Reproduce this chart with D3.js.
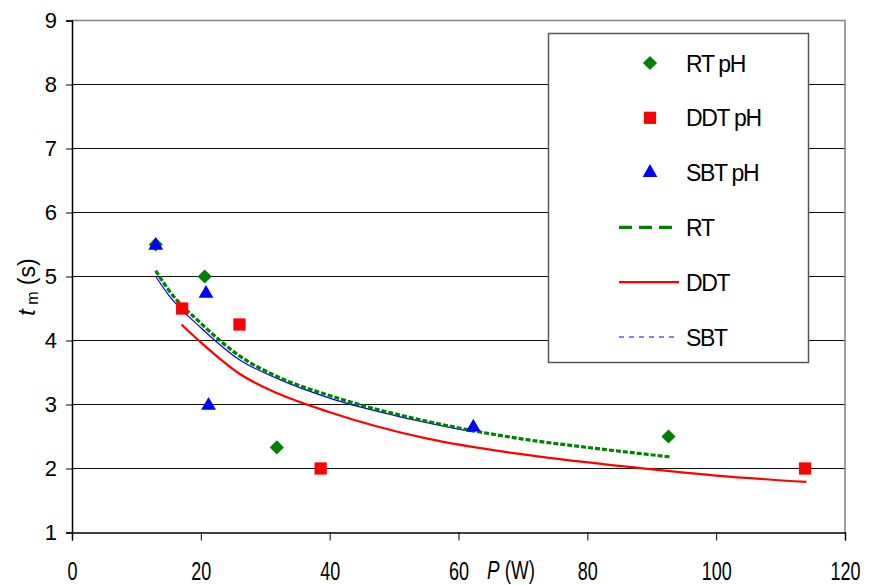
<!DOCTYPE html>
<html lang="en">
  <head>
    <meta charset="UTF-8" />
    <title>tm vs P</title>
    <style>
      body { margin: 0; background: #fff; }
      text { font-family: "Liberation Sans", Arial, sans-serif; fill: #000; }
    </style>
  </head>
  <body>
    <svg id="svg" width="870" height="585"></svg>

    <script src="https://d3js.org/d3.v7.min.js"></script>
    <script>
      // measured points
      const rtP = [13, 20.6, 31.8, 92.6];
      const rtT = [5.5, 5.0, 2.33, 2.5];
      const ddtP = [17.1, 26.0, 38.6, 113.8];
      const ddtT = [4.5, 4.25, 2.0, 2.0];
      const sbtP = [13.0, 20.8, 21.2, 62.3];
      const sbtT = [5.5, 4.75, 3.0, 2.66];

      // trend curves
      const rtFitP = [13, 15, 20, 26, 32, 40, 55, 70, 80, 93];
      const rtFitT = [5.09, 4.79, 4.27, 3.76, 3.43, 3.14, 2.74, 2.46, 2.33, 2.18];
      const ddtFitP = [17, 20, 26, 32, 40, 55, 70, 85, 100, 114];
      const ddtFitT = [4.25, 3.97, 3.48, 3.17, 2.88, 2.47, 2.22, 2.04, 1.89, 1.79];
      const sbtFitP = [13, 15, 20, 26, 32, 40, 50, 62.3];
      const sbtFitT = [5.0, 4.71, 4.2, 3.7, 3.4, 3.1, 2.83, 2.57];

      const xTicks = [0, 20, 40, 60, 80, 100, 120];
      const yTicks = [1, 2, 3, 4, 5, 6, 7, 8, 9];

      const svg = d3.select("#svg");
      const x = d3.scaleLinear().domain([0, 120]).range([72, 845]);
      const y = d3.scaleLinear().domain([1, 9]).range([532.5, 20.5]);

      // gridlines
      svg.append("g")
        .selectAll("line")
        .data(yTicks.slice(1))
        .enter()
        .append("line")
        .attr("x1", x(0)).attr("x2", x(120))
        .attr("y1", (d) => y(d)).attr("y2", (d) => y(d))
        .attr("stroke", "#111").attr("stroke-width", 1.2);

      // plot border (top / right)
      svg.append("path")
        .attr("d", `M${x(0)},${y(9)}H${x(120)}V${y(1)}`)
        .attr("fill", "none").attr("stroke", "#808080").attr("stroke-width", 1.5);

      const yAxis = svg.append("g")
        .attr("transform", `translate(${x(0)},0)`)
        .call(d3.axisLeft(y).tickValues(yTicks).tickSize(6).tickPadding(9).tickFormat(d3.format("d")));
      yAxis.select(".domain").attr("stroke", "#000").attr("stroke-width", 1.5);
      yAxis.selectAll("text").style("font-size", "22px").attr("font-family", null);

      const xAxis = svg.append("g")
        .attr("transform", `translate(0,${y(1)})`)
        .call(d3.axisBottom(x).tickValues(xTicks).tickSize(8).tickPadding(0).tickFormat(d3.format("d")));
      xAxis.select(".domain").attr("stroke", "#000").attr("stroke-width", 1.5);
      // condensed tall digits like the original
      xAxis.selectAll("text")
        .style("font-size", "25px").attr("font-family", null)
        .attr("dy", null).attr("y", 0)
        .attr("transform", "translate(0,47) scale(0.72,1)");

      // axis titles
      const xt = svg.append("text")
        .attr("transform", "translate(511,579) scale(0.75,1)")
        .attr("text-anchor", "middle")
        .style("font-size", "25px");
      xt.append("tspan").attr("font-style", "italic").text("P");
      xt.append("tspan").text(" (W)");

      const yt = svg.append("text")
        .attr("transform", "translate(35,287) rotate(-90)")
        .attr("text-anchor", "middle")
        .style("font-size", "23px");
      yt.append("tspan").attr("font-style", "italic").text("t");
      yt.append("tspan").attr("dy", 3).style("font-size", "16px").text(" m");
      yt.append("tspan").attr("dy", -3).text(" (s)");

      // curves
      const line = d3.line()
        .x((d) => x(d[0]))
        .y((d) => y(d[1]))
        .curve(d3.curveMonotoneX);

      svg.append("path")
        .datum(ddtFitP.map((p, i) => [p, ddtFitT[i]]))
        .attr("d", line).attr("fill", "none")
        .attr("stroke", "#ff0000").attr("stroke-width", 2.2);
      svg.append("path")
        .datum(sbtFitP.map((p, i) => [p, sbtFitT[i]]))
        .attr("d", line).attr("fill", "none")
        .attr("stroke", "#0000ff").attr("stroke-width", 1.2);
      svg.append("path")
        .datum(rtFitP.map((p, i) => [p, rtFitT[i]]))
        .attr("d", line).attr("fill", "none")
        .attr("stroke", "#008000").attr("stroke-width", 3.2)
        .attr("stroke-dasharray", "5,2");

      const diamond = d3.symbol().type(d3.symbolSquare).size(100);
      const square = d3.symbol().type(d3.symbolSquare).size(150);
      const triangle = d3.symbol().type(d3.symbolTriangle).size(95);

      // markers
      svg.append("g").selectAll("path")
        .data(rtP.map((p, i) => [p, rtT[i]]))
        .enter().append("path")
        .attr("d", diamond)
        .attr("transform", (d) => `translate(${x(d[0])},${y(d[1])}) rotate(45)`)
        .attr("fill", "#008000");
      svg.append("g").selectAll("path")
        .data(ddtP.map((p, i) => [p, ddtT[i]]))
        .enter().append("path")
        .attr("d", square)
        .attr("transform", (d) => `translate(${x(d[0])},${y(d[1])})`)
        .attr("fill", "#ff0000");
      svg.append("g").selectAll("path")
        .data(sbtP.map((p, i) => [p, sbtT[i]]))
        .enter().append("path")
        .attr("d", triangle)
        .attr("transform", (d) => `translate(${x(d[0])},${y(d[1]) + 1})`)
        .attr("fill", "#0000ff");

      // legend
      const lg = svg.append("g");
      lg.append("rect")
        .attr("x", 548.5).attr("y", 33.5).attr("width", 260).attr("height", 329)
        .attr("fill", "#fff").attr("stroke", "#555").attr("stroke-width", 1.5);

      const legendItems = [
        { label: "RT pH", kind: "diamond", color: "#008000" },
        { label: "DDT pH", kind: "square", color: "#ff0000" },
        { label: "SBT pH", kind: "triangle", color: "#0000ff" },
        { label: "RT", kind: "line", color: "#008000", w: 3.2, dash: "13,7" },
        { label: "DDT", kind: "line", color: "#ff0000", w: 2.2, dash: null },
        { label: "SBT", kind: "line", color: "#0000ff", w: 1.2, dash: "5,5" },
      ];
      const legendY = d3.scalePoint().domain(legendItems.map((d) => d.label)).range([63, 337]);

      legendItems.forEach((it) => {
        const cy = legendY(it.label);
        if (it.kind === "line") {
          lg.append("line")
            .attr("x1", 619).attr("x2", 679).attr("y1", cy).attr("y2", cy)
            .attr("stroke", it.color).attr("stroke-width", it.w)
            .attr("stroke-dasharray", it.dash);
        } else {
          const sym = it.kind === "diamond" ? diamond : it.kind === "square" ? square : triangle;
          lg.append("path")
            .attr("d", sym)
            .attr("transform", `translate(650,${cy}) rotate(${it.kind === "diamond" ? 45 : 0})`)
            .attr("fill", it.color);
        }
        lg.append("text")
          .attr("x", 686).attr("y", cy + 8.5)
          .style("font-size", "23px")
          .style("letter-spacing", "-1.3px")
          .text(it.label);
      });
    </script>
  </body>
</html>
